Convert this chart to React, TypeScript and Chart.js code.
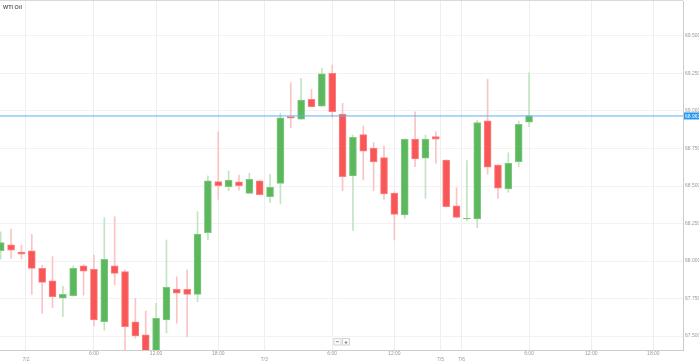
import React, { useEffect, useRef } from "react";
import { Chart, registerables } from "chart.js";

Chart.register(...registerables);

const chartTitle = "WTI Oil";

// Hourly candles (OHLC)
const opens = [
  68.069, 68.107, 68.06, 68.067, 67.951, 67.867, 67.753, 67.769, 67.967, 67.945,
  67.595, 67.967, 67.929, 67.595, 67.507, 67.367, 67.607, 67.811, 67.811, 67.778,
  68.189, 68.529, 68.495, 68.527, 68.451, 68.535, 68.429, 68.518, 68.962, 68.945,
  69.078, 69.033, 69.251, 68.98, 68.567, 68.842, 68.753, 68.689, 68.453, 68.307,
  68.813, 68.685, 68.829, 68.673, 68.367, 68.28, 68.28, 68.935, 68.64, 68.48,
  68.662, 68.925,
];
const highs = [
  68.195, 68.213, 68.107, 68.178, 67.973, 68.029, 67.833, 67.967, 67.975, 68.04,
  68.289, 68.295, 67.94, 67.751, 67.667, 67.718, 68.14, 67.895, 67.94, 68.329,
  68.567, 68.862, 68.6, 68.573, 68.585, 68.54, 68.578, 68.985, 69.189, 69.218,
  69.145, 69.285, 69.307, 69.051, 68.84, 68.9, 68.789, 68.767, 68.462, 68.815,
  68.995, 68.84, 68.862, 68.675, 68.489, 68.669, 68.94, 69.211, 68.642, 68.722,
  68.933, 69.255,
];
const lows = [
  68.013, 68.018, 68.013, 67.778, 67.651, 67.689, 67.629, 67.765, 67.773, 67.569,
  67.54, 67.84, 67.393, 67.485, 67.33, 67.35, 67.52, 67.585, 67.495, 67.729,
  68.14, 68.411, 68.469, 68.473, 68.449, 68.44, 68.389, 68.38, 68.889, 68.94,
  69.027, 69.031, 68.958, 68.469, 68.202, 68.54, 68.469, 68.411, 68.14, 68.285,
  68.629, 68.418, 68.651, 68.36, 68.289, 68.267, 68.222, 68.578, 68.418, 68.458,
  68.629, 68.895,
];
const closes = [
  68.122, 68.073, 68.045, 67.951, 67.858, 67.762, 67.778, 67.951, 67.933, 67.607,
  68.011, 67.918, 67.562, 67.5, 67.367, 67.618, 67.825, 67.785, 67.778, 68.18,
  68.535, 68.502, 68.54, 68.502, 68.545, 68.442, 68.491, 68.955, 68.953, 69.073,
  69.029, 69.247, 68.995, 68.562, 68.825, 68.733, 68.66, 68.447, 68.311, 68.811,
  68.68, 68.813, 68.813, 68.362, 68.291, 68.285, 68.922, 68.625, 68.485, 68.651,
  68.911, 68.967,
];

const lastPrice = 68.967;

const yTickValues = [67.5, 67.75, 68, 68.25, 68.5, 68.75, 69, 69.25, 69.5];

// x tick positions in candle-index units
const xTickPositions = [2.44, 9, 15, 21, 25.44, 32, 38, 42.45, 44.48, 51, 57, 63];
const xTickLabels = ["7/2", "6:00", "12:00", "18:00", "7/3", "6:00", "12:00", "7/5", "7/6", "6:00", "12:00", "18:00"];
const xTickIsDate = [true, false, false, false, true, false, false, true, true, false, false, false];

const X_MIN = -0.068;
const X_MAX = 65.86;
const Y_MIN = 67.4067;
const Y_MAX = 69.7333;

const GREEN = "#5cb85c";
const RED = "#f95757";
const GREEN_EDGE = "#80c880";
const RED_EDGE = "#fb8080";
const GREEN_WICK = "#c3e4c3";
const RED_WICK = "#fbc4c4";
const FONT = "'Liberation Sans', Arial, sans-serif";

const overlayPlugin = {
  id: "overlay",
  afterDraw(chart: any) {
    const { ctx, chartArea, scales } = chart;
    ctx.save();
    // top frame line
    ctx.strokeStyle = "#d9d9d9";
    ctx.lineWidth = 1;
    ctx.beginPath();
    ctx.moveTo(0, 0.5);
    ctx.lineTo(chartArea.right, 0.5);
    ctx.stroke();
    // title
    ctx.fillStyle = "#666";
    ctx.font = `bold 5.5px ${FONT}`;
    ctx.textAlign = "left";
    ctx.textBaseline = "alphabetic";
    ctx.fillText(chartTitle, 3, 9);
    // price tag
    const py = scales.y.getPixelForValue(lastPrice);
    ctx.fillStyle = "#2196f3";
    ctx.fillRect(chartArea.right + 1, py - 3.5, 15, 7);
    ctx.fillStyle = "#ffffff";
    ctx.font = `5px ${FONT}`;
    ctx.textBaseline = "middle";
    ctx.fillText(lastPrice.toFixed(3), chartArea.right + 2, py + 0.5);
    // zoom buttons
    const cx = (chartArea.left + chartArea.right) / 2;
    const by = chartArea.bottom - 12;
    const boxes = [
      { x: cx - 8, t: "−" },
      { x: cx + 0.5, t: "+" },
    ];
    boxes.forEach((b) => {
      ctx.fillStyle = "#fbfbfb";
      ctx.fillRect(b.x, by, 7.5, 7);
      ctx.strokeStyle = "#d4d4d4";
      ctx.strokeRect(b.x + 0.5, by + 0.5, 7, 6.5);
      ctx.fillStyle = "#555";
      ctx.font = `bold 6px ${FONT}`;
      ctx.textAlign = "center";
      ctx.textBaseline = "middle";
      ctx.fillText(b.t, b.x + 4, by + 4);
    });
    ctx.restore();
  },
};

export default function App() {
  const ref = useRef<HTMLCanvasElement>(null);

  useEffect(() => {
    document.body.style.margin = "0";
    const idx = opens.map((_, i) => i);
    const up = idx.map((i) => closes[i] >= opens[i]);
    const bodies = idx.map((i) => ({ x: i, y: [opens[i], closes[i]] }));
    const wicks = idx.map((i) => ({ x: i, y: [lows[i], highs[i]] }));

    const chart = new Chart(ref.current as HTMLCanvasElement, {
      type: "bar",
      data: {
        datasets: [
          {
            type: "line",
            data: [
              { x: X_MIN - 5, y: lastPrice },
              { x: X_MAX + 5, y: lastPrice },
            ],
            borderColor: "#5ab2f3",
            borderWidth: 1,
            pointRadius: 0,
            order: 0,
          } as any,
          {
            type: "bar",
            data: bodies,
            backgroundColor: up.map((u) => (u ? GREEN : RED)),
            borderColor: up.map((u) => (u ? GREEN_EDGE : RED_EDGE)),
            borderWidth: 1,
            borderSkipped: false,
            grouped: false,
            categoryPercentage: 1,
            barPercentage: 1,
            maxBarThickness: 7,
            order: 1,
          } as any,
          {
            type: "bar",
            data: wicks,
            backgroundColor: up.map((u) => (u ? GREEN_WICK : RED_WICK)),
            borderWidth: 0,
            grouped: false,
            categoryPercentage: 1,
            barPercentage: 1,
            maxBarThickness: 1,
            order: 2,
          } as any,
        ],
      },
      options: {
        responsive: false,
        maintainAspectRatio: false,
        animation: false,
        layout: { padding: { top: 1, left: 0, right: 0, bottom: 0 } },
        plugins: {
          legend: { display: false },
          tooltip: { enabled: false },
          title: { display: false },
        },
        scales: {
          x: {
            type: "linear",
            min: X_MIN,
            max: X_MAX,
            offset: false,
            grid: { color: "#eeeeee", drawTicks: false, offset: false },
            border: { color: "#cccccc" },
            afterBuildTicks: (axis: any) => {
              axis.ticks = xTickPositions.map((v) => ({ value: v }));
            },
            afterFit: (axis: any) => {
              axis.height = 14;
              axis.paddingLeft = 0;
              axis.paddingRight = 0;
            },
            ticks: {
              autoSkip: false,
              maxRotation: 0,
              minRotation: 0,
              padding: 1,
              color: "#999",
              font: { size: 5, family: FONT, lineHeight: 1.2 },
              callback: (_v: any, index: number) =>
                xTickIsDate[index] ? ["", xTickLabels[index]] : xTickLabels[index],
            },
          },
          y: {
            type: "linear",
            position: "right",
            min: Y_MIN,
            max: Y_MAX,
            grid: { color: "#f2f2f2", drawTicks: false },
            border: { color: "#cccccc" },
            afterBuildTicks: (axis: any) => {
              axis.ticks = yTickValues.map((v) => ({ value: v }));
            },
            afterFit: (axis: any) => {
              axis.width = 16;
              axis.paddingTop = 0;
              axis.paddingBottom = 0;
            },
            ticks: {
              includeBounds: false,
              padding: 2,
              color: "#999",
              font: { size: 5, family: FONT },
              callback: (v: any) => Number(v).toFixed(3),
            },
          },
        },
      } as any,
      plugins: [overlayPlugin],
    });
    return () => chart.destroy();
  }, []);

  return (
    <div style={{ width: 699, height: 364 }}>
      <canvas
        ref={ref}
        width={699}
        height={364}
        style={{ display: "block", width: 699, height: 364 }}
      />
    </div>
  );
}
